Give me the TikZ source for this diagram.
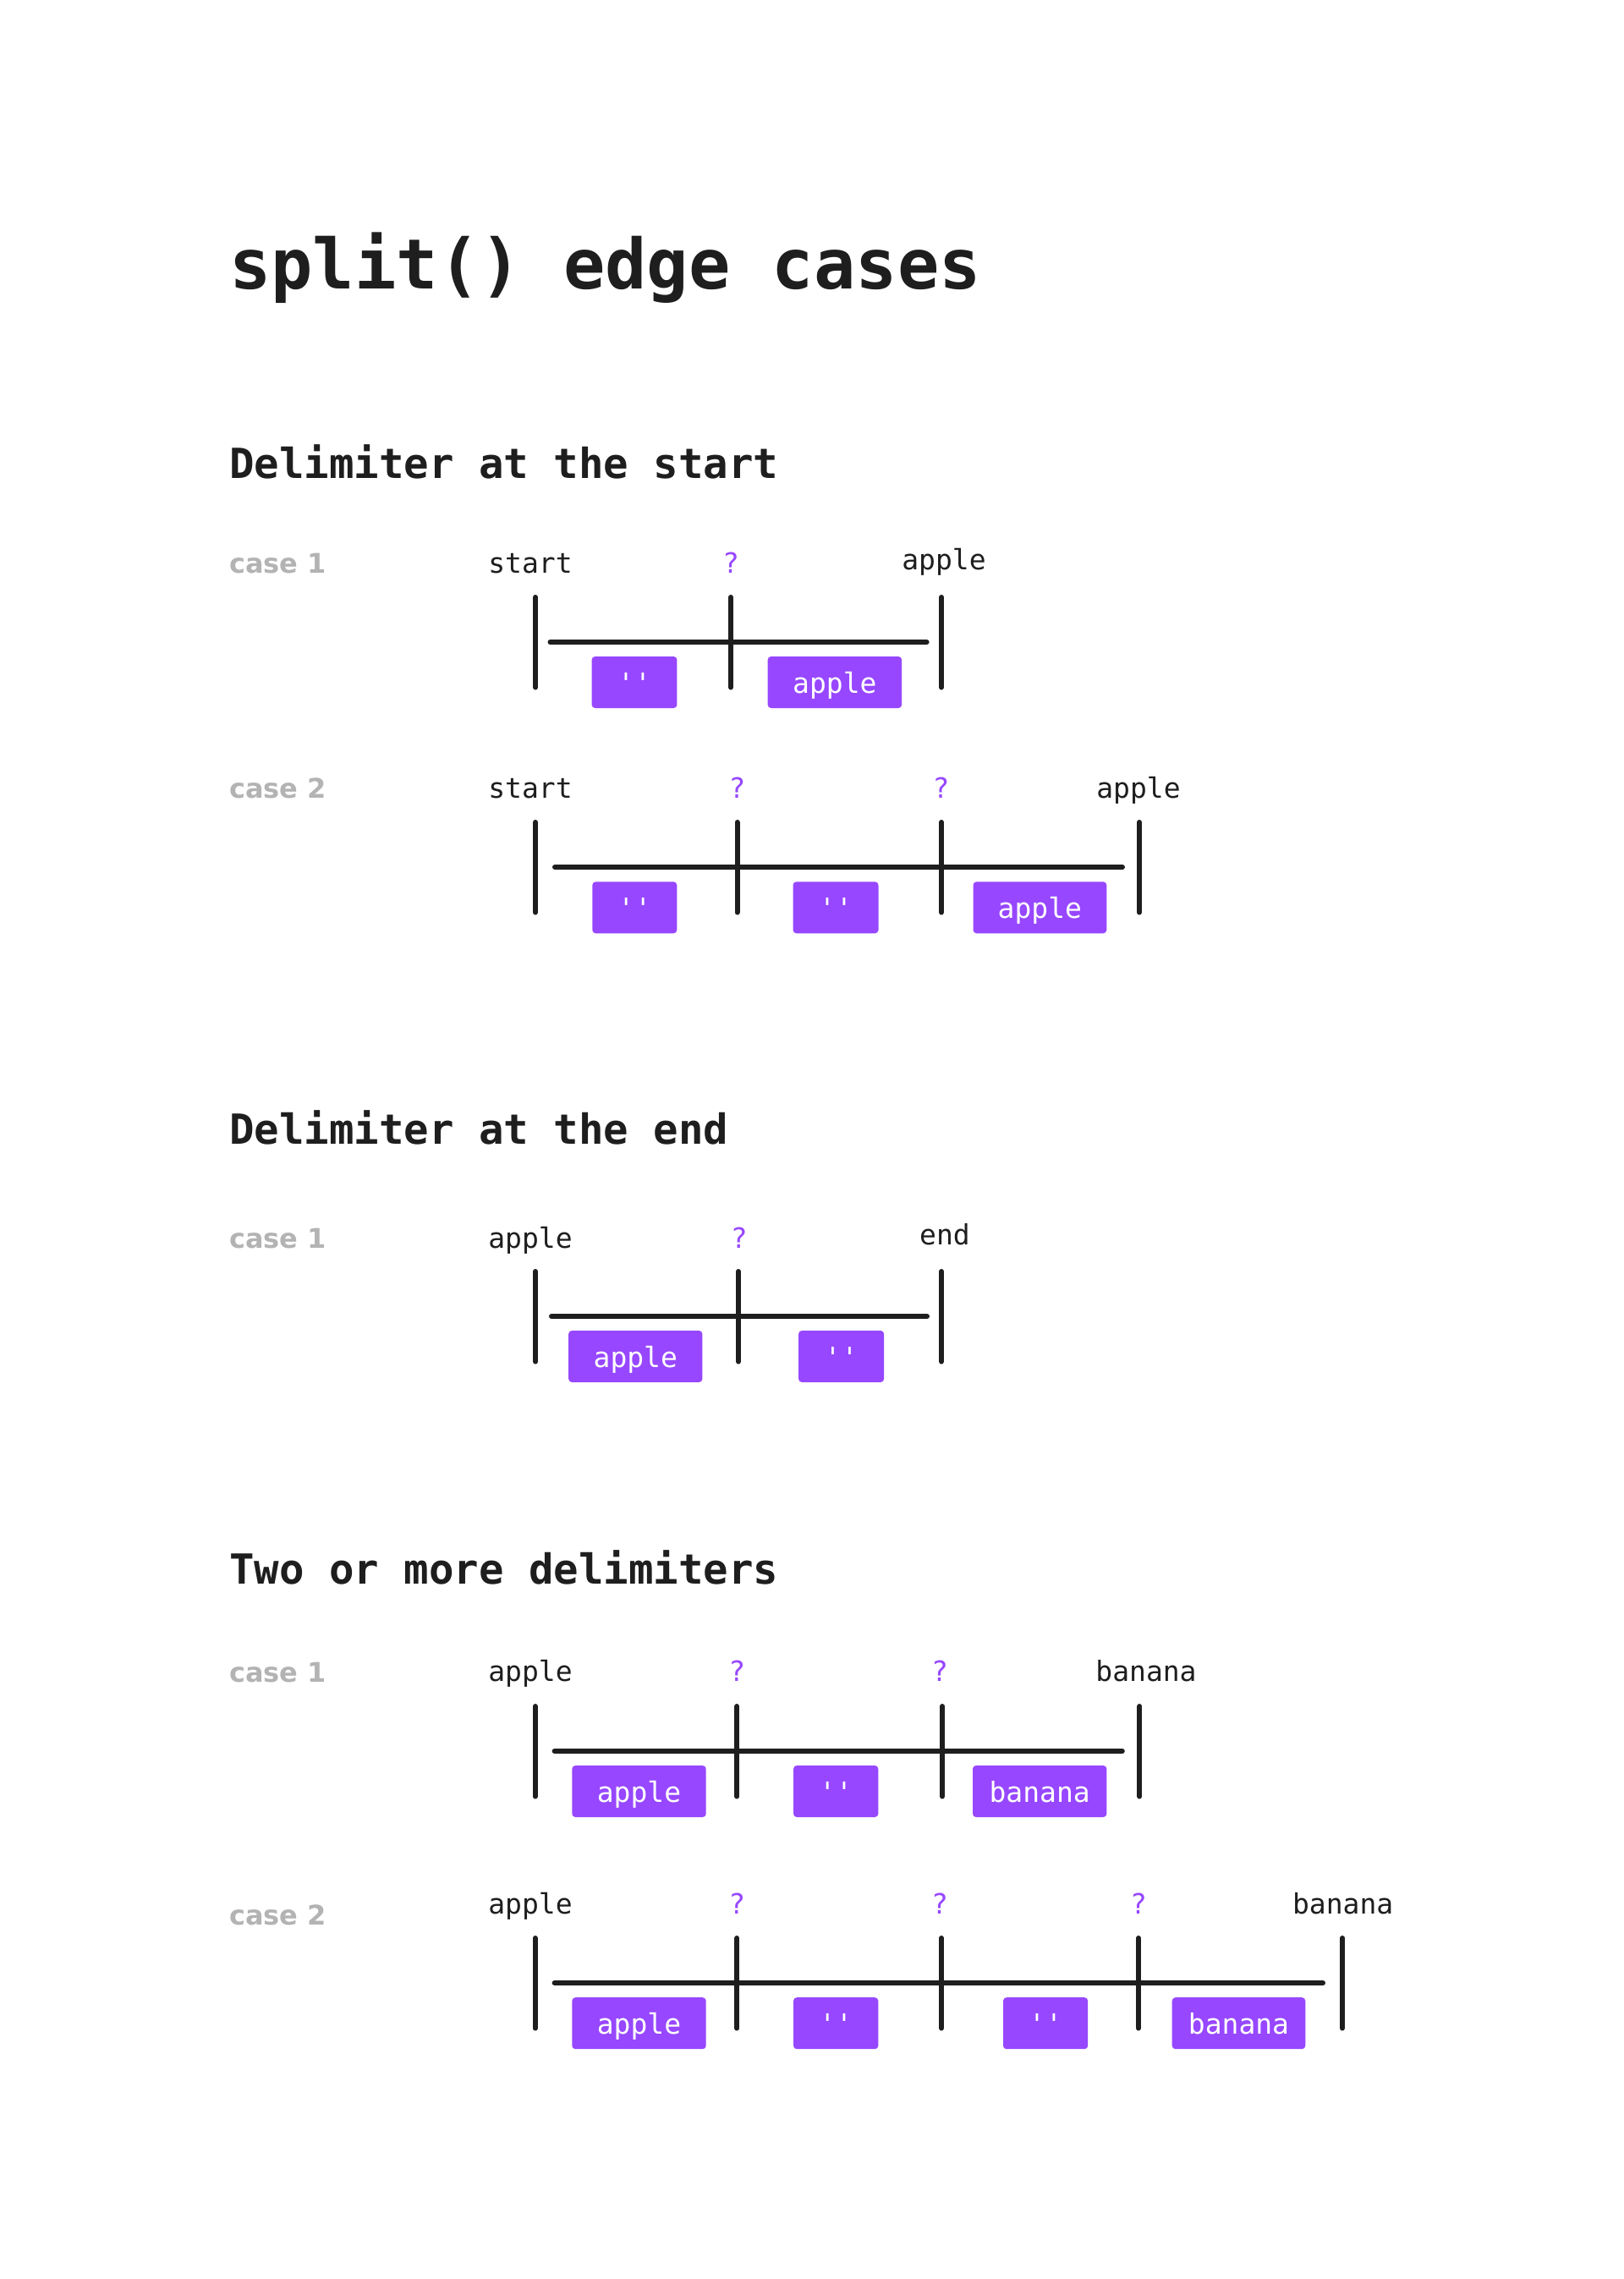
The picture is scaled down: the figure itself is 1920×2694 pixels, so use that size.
\documentclass[tikz,border=0pt]{standalone}
\usepackage{fontspec}
\setmonofont{DejaVu Sans Mono}
\newfontfamily\casefont{DejaVu Sans}
\definecolor{ink}{HTML}{1E1E1E}
\definecolor{purp}{HTML}{9747FF}
\definecolor{greyt}{HTML}{B3B3B3}
\newcommand\mkbar[3]{\coordinate (#1t) at (#2,#3-53); \coordinate (#1b) at (#2,#3+53.5); \draw[bar] (#1t) -- (#1b);}
\newcommand\mkline[4]{\coordinate (#1l) at (#2,#4); \coordinate (#1r) at (#3,#4); \draw[bar] (#1l) -- (#1r);}
\begin{document}
\begin{tikzpicture}[x=1pt,y=-1pt,
  lbl/.style={anchor=base, font=\ttfamily\fontsize{33}{40}\selectfont, text=ink, inner sep=0pt},
  qm/.style={lbl, text=purp},
  caselbl/.style={anchor=base west, font=\casefont\bfseries\fontsize{32}{40}\selectfont, text=greyt, inner sep=0pt},
  heading/.style={anchor=base west, font=\ttfamily\bfseries\fontsize{49}{60}\selectfont, text=ink, inner sep=0pt},
  titlestyle/.style={anchor=base west, font=\ttfamily\bfseries\fontsize{82}{100}\selectfont, text=ink, inner sep=0pt},
  bar/.style={draw=ink, line width=6pt, line cap=round},
  seg/.style={rectangle, rounded corners=4pt, fill=purp, text=white, font=\ttfamily\fontsize{33}{40}\selectfont, minimum height=61pt, inner sep=0pt, text height=25.6pt, text depth=0pt, minimum width=#1}
]
\useasboundingbox[fill=white] (0,0) rectangle (1920,2694);

\node[titlestyle] (title) at (271,341) {split() edge cases};

% ---------- Section 1
\node[heading] (h1) at (271,565) {Delimiter at the start};

% case 1  (L = 759)
\node[caselbl] (s1c1) at (271,677) {case 1};
\node[lbl] (s1c1la) at (627,677) {start};
\node[qm] (s1c1q1) at (864,677) {?};
\node[lbl] (s1c1lb) at (1116,673) {apple};
\mkline{s1c1h}{650.5}{1095.6}{759}
\mkbar{s1c1b0}{633}{759}
\mkbar{s1c1b1}{864}{759}
\mkbar{s1c1b2}{1113}{759}
\node[seg=100.8pt] (s1c1s1) at (750,806.5) {''};
\node[seg=158.5pt] (s1c1s2) at (986.9,806.5) {apple};

% case 2  (L = 1025)
\node[caselbl] (s1c2) at (271,943) {case 2};
\node[lbl] (s1c2la) at (627,943) {start};
\node[qm] (s1c2q1) at (871.5,943) {?};
\node[qm] (s1c2q2) at (1112.6,943) {?};
\node[lbl] (s1c2lb) at (1346,943) {apple};
\mkline{s1c2h}{656}{1327}{1025}
\mkbar{s1c2b0}{633}{1025}
\mkbar{s1c2b1}{871.5}{1025}
\mkbar{s1c2b2}{1113}{1025}
\mkbar{s1c2b3}{1347}{1025}
\node[seg=100pt] (s1c2s1) at (750.3,1072.8) {''};
\node[seg=101pt] (s1c2s2) at (988,1072.8) {''};
\node[seg=157.8pt] (s1c2s3) at (1229.4,1072.8) {apple};

% ---------- Section 2
\node[heading] (h2) at (271,1352) {Delimiter at the end};

% case 1 (L = 1556)
\node[caselbl] (s2c1) at (271,1475) {case 1};
\node[lbl] (s2c1la) at (627,1475) {apple};
\node[qm] (s2c1q1) at (873.7,1475) {?};
\node[lbl] (s2c1lb) at (1117,1471) {end};
\mkline{s2c1h}{652}{1096}{1556}
\mkbar{s2c1b0}{633}{1556}
\mkbar{s2c1b1}{873}{1556}
\mkbar{s2c1b2}{1113}{1556}
\node[seg=158.2pt] (s2c1s1) at (751.3,1603.4) {apple};
\node[seg=101pt] (s2c1s2) at (994.6,1603.4) {''};

% ---------- Section 3
\node[heading] (h3) at (271,1872) {Two or more delimiters};

% case 1 (L = 2070)
\node[caselbl] (s3c1) at (271,1988) {case 1};
\node[lbl] (s3c1la) at (627,1987.5) {apple};
\node[qm] (s3c1q1) at (871.4,1987.5) {?};
\node[qm] (s3c1q2) at (1111,1987.5) {?};
\node[lbl] (s3c1lb) at (1355,1987.5) {banana};
\mkline{s3c1h}{655.6}{1326.8}{2070}
\mkbar{s3c1b0}{632.6}{2070}
\mkbar{s3c1b1}{871.4}{2070}
\mkbar{s3c1b2}{1114}{2070}
\mkbar{s3c1b3}{1347.4}{2070}
\node[seg=158.4pt] (s3c1s1) at (755.5,2117.5) {apple};
\node[seg=100.3pt] (s3c1s2) at (988.2,2117.5) {''};
\node[seg=158.4pt] (s3c1s3) at (1229.2,2117.5) {banana};

% case 2 (L = 2344)
\node[caselbl] (s3c2) at (271,2275) {case 2};
\node[lbl] (s3c2la) at (627,2262.5) {apple};
\node[qm] (s3c2q1) at (871.4,2262.5) {?};
\node[qm] (s3c2q2) at (1111,2262.5) {?};
\node[qm] (s3c2q3) at (1346,2262.5) {?};
\node[lbl] (s3c2lb) at (1587.7,2262.5) {banana};
\mkline{s3c2h}{655.6}{1564}{2344}
\mkbar{s3c2b0}{632.6}{2344}
\mkbar{s3c2b1}{871.4}{2344}
\mkbar{s3c2b2}{1113}{2344}
\mkbar{s3c2b3}{1346}{2344}
\mkbar{s3c2b4}{1587}{2344}
\node[seg=158.4pt] (s3c2s1) at (755.5,2391.7) {apple};
\node[seg=100.3pt] (s3c2s2) at (988.2,2391.7) {''};
\node[seg=100.2pt] (s3c2s3) at (1236.1,2391.7) {''};
\node[seg=157.6pt] (s3c2s4) at (1464.5,2391.7) {banana};
\end{tikzpicture}
\end{document}
